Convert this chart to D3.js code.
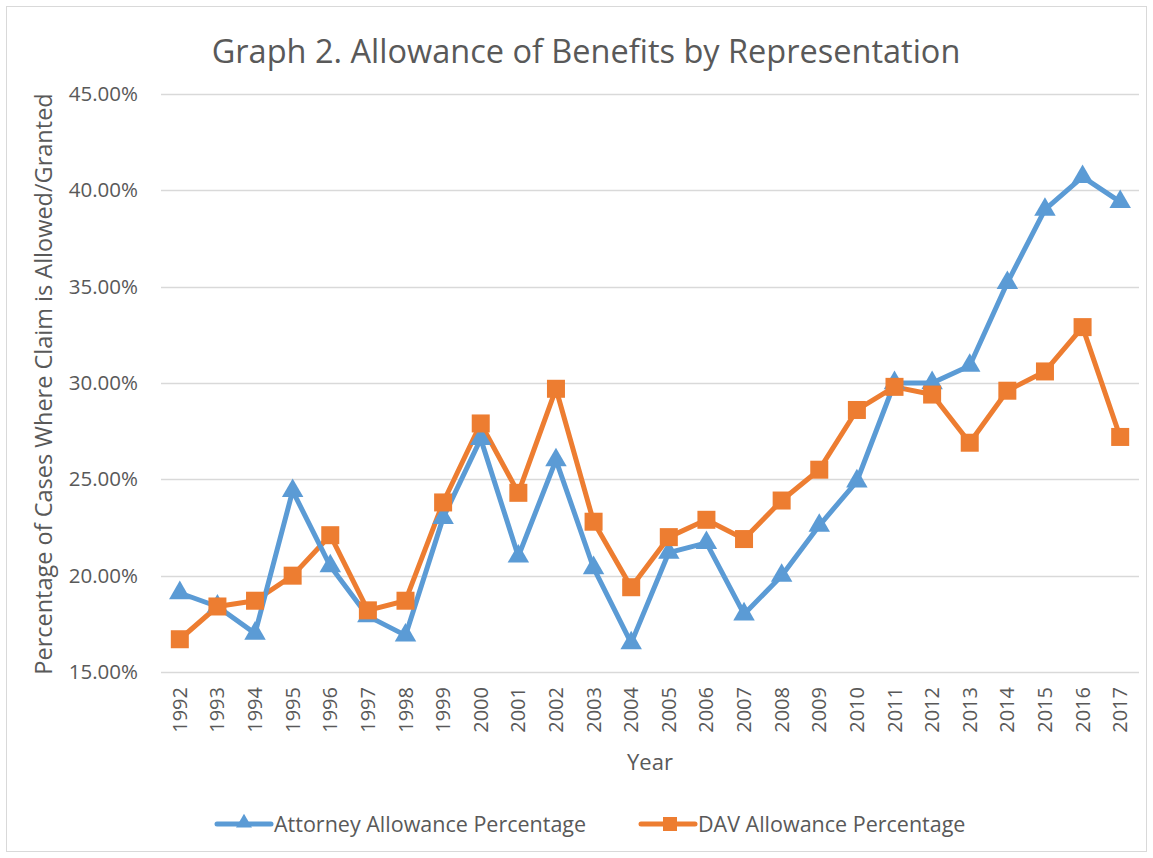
<!DOCTYPE html>
<html>
<head>
<meta charset="utf-8">
<script src="https://cdn.jsdelivr.net/npm/d3@7"></script>
<style>
  body { margin: 0; background: #fff; }
  text { font-family: "Open Sans", "Noto Sans", sans-serif; fill: #595959; }
</style>
</head>
<body>
<svg class="chart"></svg>
<script>
// Chart data
const years = [1992, 1993, 1994, 1995, 1996, 1997, 1998, 1999, 2000, 2001, 2002, 2003, 2004,
  2005, 2006, 2007, 2008, 2009, 2010, 2011, 2012, 2013, 2014, 2015, 2016, 2017];
const attorney = [19.1, 18.4, 17.0, 24.4, 20.5, 17.9, 16.9, 23.0, 27.1, 21.0, 26.0, 20.4, 16.5,
  21.2, 21.7, 18.0, 20.0, 22.6, 24.9, 30.0, 30.0, 30.9, 35.2, 39.0, 40.7, 39.4];
const dav = [16.7, 18.4, 18.7, 20.0, 22.1, 18.2, 18.7, 23.8, 27.9, 24.3, 29.7, 22.8, 19.4,
  22.0, 22.9, 21.9, 23.9, 25.5, 28.6, 29.8, 29.4, 26.9, 29.6, 30.6, 32.9, 27.2];
const yTicks = [15, 20, 25, 30, 35, 40, 45];
const seriesNames = ['Attorney Allowance Percentage', 'DAV Allowance Percentage'];

const svgWidth = 1153;
const svgHeight = 858;
const margin = { top: 94, right: 14, bottom: 186, left: 161 };
const chartWidth = 1139 - margin.left;
const chartHeight = 672 - margin.top;

const svg = d3.select('.chart')
  .attr('width', svgWidth)
  .attr('height', svgHeight);

// outer border
svg.append('rect')
  .attr('x', 6.5).attr('y', 6.5)
  .attr('width', 1140).attr('height', 845)
  .attr('fill', 'none')
  .attr('stroke', '#d9d9d9')
  .attr('stroke-width', 1);

const chart = svg.append('g')
  .attr('transform', 'translate(' + margin.left + ',' + margin.top + ')');

const xScale = d3.scaleBand()
  .domain(years)
  .range([0, chartWidth]);

const yScale = d3.scaleLinear()
  .domain([15, 45])
  .range([chartHeight, 0]);

// gridlines
chart.selectAll('.grid')
  .data(yTicks)
  .enter()
  .append('line')
  .attr('class', 'grid')
  .attr('x1', 0)
  .attr('x2', chartWidth)
  .attr('y1', d => Math.round(yScale(d)) + 0.5)
  .attr('y2', d => Math.round(yScale(d)) + 0.5)
  .attr('stroke', '#d9d9d9')
  .attr('stroke-width', 1.5);

// y axis labels
const yAxisGroup = chart.append('g')
  .call(d3.axisLeft(yScale).tickValues(yTicks).tickSize(0).tickPadding(23)
    .tickFormat(d => d.toFixed(2) + '%'));
yAxisGroup.select('.domain').remove();
yAxisGroup.selectAll('text')
  .attr('font-size', '20.5px')
  .style('font-family', '"Open Sans", sans-serif')
  .attr('fill', '#595959');

// x axis labels
const xAxisGroup = chart.append('g')
  .attr('transform', 'translate(0,' + chartHeight + ')')
  .call(d3.axisBottom(xScale).tickSize(0));
xAxisGroup.select('.domain').remove();
xAxisGroup.selectAll('text')
  .attr('font-size', '20px')
  .style('font-family', '"Open Sans", sans-serif')
  .attr('fill', '#595959')
  .attr('text-anchor', 'end')
  .attr('dy', '0.35em')
  .attr('transform', 'translate(0,15) rotate(-90)')
  .attr('x', 0)
  .attr('y', 0);

const cx = d => xScale(d) + xScale.bandwidth() / 2;

const line = d3.line()
  .x(d => cx(d.year))
  .y(d => yScale(d.value));

const attData = years.map((y, i) => ({ year: y, value: attorney[i] }));
const davData = years.map((y, i) => ({ year: y, value: dav[i] }));

const triangle = d3.symbol().type(d3.symbolTriangle).size(200);

// DAV series (drawn first)
chart.append('path')
  .datum(davData)
  .attr('fill', 'none')
  .attr('stroke', '#ed7d31')
  .attr('stroke-width', 5)
  .attr('stroke-linejoin', 'round')
  .attr('d', line);

// Attorney series
chart.append('path')
  .datum(attData)
  .attr('fill', 'none')
  .attr('stroke', '#5b9bd5')
  .attr('stroke-width', 5)
  .attr('stroke-linejoin', 'round')
  .attr('d', line);

chart.selectAll('.tri')
  .data(attData)
  .enter()
  .append('path')
  .attr('class', 'tri')
  .attr('d', triangle)
  .attr('transform', d => 'translate(' + cx(d.year) + ',' + yScale(d.value) + ')')
  .attr('fill', '#5b9bd5');

chart.selectAll('.sq')
  .data(davData)
  .enter()
  .append('rect')
  .attr('class', 'sq')
  .attr('x', d => cx(d.year) - 9)
  .attr('y', d => yScale(d.value) - 9)
  .attr('width', 18)
  .attr('height', 18)
  .attr('fill', '#ed7d31');

// title
svg.append('text')
  .attr('x', 586)
  .attr('y', 63)
  .attr('text-anchor', 'middle')
  .attr('font-size', '32.5px')
  .text('Graph 2. Allowance of Benefits by Representation');

// axis titles
svg.append('text')
  .attr('x', 650)
  .attr('y', 770)
  .attr('text-anchor', 'middle')
  .attr('font-size', '22px')
  .text('Year');

svg.append('text')
  .attr('transform', 'rotate(-90)')
  .attr('x', -384)
  .attr('y', 52)
  .attr('text-anchor', 'middle')
  .attr('font-size', '23.5px')
  .text('Percentage of Cases Where Claim is Allowed/Granted');

// legend
const legend = svg.append('g');
const legendItems = [
  { name: seriesNames[0], color: '#5b9bd5', x: 217, marker: 'tri' },
  { name: seriesNames[1], color: '#ed7d31', x: 641, marker: 'sq' }
];
legendItems.forEach(item => {
  legend.append('line')
    .attr('x1', item.x).attr('x2', item.x + 54)
    .attr('y1', 824).attr('y2', 824)
    .attr('stroke', item.color)
    .attr('stroke-width', 5)
    .attr('stroke-linecap', 'round');
  if (item.marker === 'tri') {
    legend.append('path')
      .attr('d', d3.symbol().type(d3.symbolTriangle).size(110))
      .attr('transform', 'translate(' + (item.x + 27) + ',823)')
      .attr('fill', item.color);
  } else {
    legend.append('rect')
      .attr('x', item.x + 22).attr('y', 817)
      .attr('width', 14).attr('height', 14)
      .attr('fill', item.color);
  }
  legend.append('text')
    .attr('x', item.x + 57)
    .attr('y', 832)
    .attr('font-size', '21.5px')
    .text(item.name);
});
</script>
</body>
</html>
